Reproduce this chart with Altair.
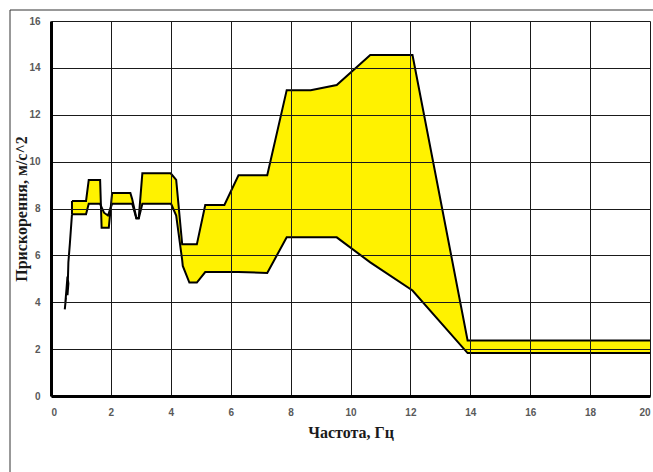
import altair as alt
import pandas as pd

# common frequency points of the band (Hz)
freq = [0.70, 1.17, 1.26, 1.64, 1.69, 1.77, 1.90, 1.93, 2.04, 2.65, 2.71, 2.79, 2.85, 2.93,
        3.05, 3.99, 4.01, 4.18, 4.38, 4.40, 4.62, 4.87, 5.15, 5.79, 6.26, 7.22, 7.87, 8.67,
        9.54, 10.66, 12.07, 13.91, 20.0]
lower = [7.75, 7.75, 8.20, 8.20, 8.05, 7.82, 7.70, 7.80, 8.20, 8.20, 8.20, 7.85, 7.57, 7.57,
         8.20, 8.20, 8.20, 7.70, 5.80, 5.55, 4.84, 4.84, 5.29, 5.29, 5.29, 5.25, 6.77, 6.77,
         6.77, 5.70, 4.50, 1.83, 1.83]
upper = [8.32, 8.32, 9.22, 9.22, 7.18, 7.18, 7.18, 7.18, 8.66, 8.66, 8.40, 7.95, 7.60, 7.60,
         9.50, 9.50, 9.48, 9.22, 6.47, 6.47, 6.47, 6.47, 8.15, 8.15, 9.42, 9.42, 13.05, 13.05,
         13.27, 14.55, 14.55, 2.37, 2.37]

# initial single trace (low frequencies)
start_freq = [0.46, 0.50, 0.48, 0.52, 0.55, 0.58, 0.55, 0.58, 0.63, 0.70]
start_acc = [3.70, 4.20, 4.00, 4.60, 5.10, 4.80, 4.30, 5.70, 6.50, 7.75]

x_ticks = list(range(0, 21, 2))
y_ticks = list(range(0, 17, 2))

band = pd.DataFrame({"f": freq, "lo": lower, "hi": upper})
start = pd.DataFrame({"f": start_freq, "a": start_acc, "i": list(range(len(start_freq)))})
edge = pd.DataFrame({"f": [freq[0]], "lo": [lower[0]], "hi": [upper[0]]})

xs = alt.Scale(domain=[0, 20], nice=False)
ys = alt.Scale(domain=[0, 16], nice=False)

x_axis = alt.Axis(values=x_ticks, title="Частота, Гц", grid=True, ticks=False,
                  labelPadding=11, titleY=36, titleBaseline="middle", zindex=1)
y_axis = alt.Axis(values=y_ticks, title="Прискорення, м/с^2", grid=True, ticks=False,
                  labelPadding=11, titleX=-30, titleBaseline="middle", zindex=1)

border = alt.Chart(pd.DataFrame({"a": [0]})).mark_rect(
    filled=False, stroke="#333333", strokeWidth=1
).encode(x=alt.value(-41), y=alt.value(-11), x2=alt.value(640), y2=alt.value(500))

area = alt.Chart(band).mark_area(color="#FFF200", opacity=1, interpolate="linear").encode(
    x=alt.X("f:Q", scale=xs, axis=x_axis),
    y=alt.Y("lo:Q", scale=ys, axis=y_axis),
    y2="hi:Q",
)

lo_line = alt.Chart(band).mark_line(color="black", strokeWidth=2).encode(
    x=alt.X("f:Q", scale=xs), y=alt.Y("lo:Q", scale=ys)
)
hi_line = alt.Chart(band).mark_line(color="black", strokeWidth=2).encode(
    x=alt.X("f:Q", scale=xs), y=alt.Y("hi:Q", scale=ys)
)
start_line = alt.Chart(start).mark_line(color="black", strokeWidth=2).encode(
    x=alt.X("f:Q", scale=xs), y=alt.Y("a:Q", scale=ys), order="i:Q"
)
edge_rule = alt.Chart(edge).mark_rule(color="black", strokeWidth=2).encode(
    x=alt.X("f:Q", scale=xs), y=alt.Y("lo:Q", scale=ys), y2="hi:Q"
)

chart = alt.layer(border, area, lo_line, hi_line, start_line, edge_rule).properties(
    width=599, height=375,
    autosize=alt.AutoSizeParams(type="none"),
    padding={"left": 51, "top": 21, "right": 3, "bottom": 76},
    background="white",
).configure_view(strokeWidth=0).configure_axis(
    gridColor="#1a1a1a", gridWidth=1, gridOpacity=1,
    domainColor="black", domainWidth=3,
    labelFont="Liberation Sans", labelFontSize=10, labelFontWeight="bold", labelColor="#595959",
    titleFont="Liberation Serif", titleFontSize=16, titleFontWeight="bold", titleColor="#1a1a1a",
)

chart.save("out.html", embed_options={"renderer": "svg", "actions": False})
